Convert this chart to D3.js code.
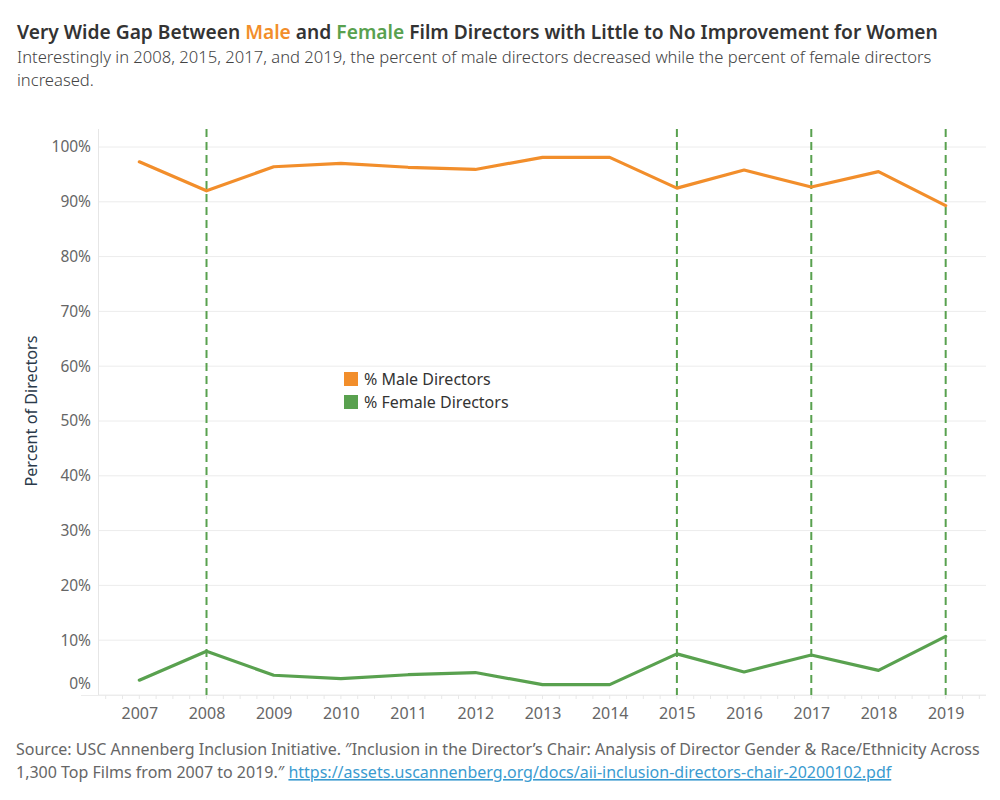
<!DOCTYPE html>
<html>
<head>
<meta charset="utf-8">
<script src="https://cdn.jsdelivr.net/npm/d3@7"></script>
<style>
  body { margin: 0; background: #fff; }
  svg { display: block; }
</style>
</head>
<body>
<div id="chart"></div>
<script>
// data
const years = [2007, 2008, 2009, 2010, 2011, 2012, 2013, 2014, 2015, 2016, 2017, 2018, 2019];
const maleValues = [97.3, 92.0, 96.4, 97.0, 96.3, 95.9, 98.1, 98.1, 92.5, 95.8, 92.7, 95.5, 89.3];
const femaleValues = [2.7, 8.0, 3.6, 3.0, 3.7, 4.1, 1.9, 1.9, 7.5, 4.2, 7.3, 4.5, 10.7];
const highlightYears = [2008, 2015, 2017, 2019];
const yTicks = [0, 10, 20, 30, 40, 50, 60, 70, 80, 90, 100];
const seriesNames = ["% Male Directors", "% Female Directors"];

const width = 1000, height = 800;
const margin = { top: 129, right: 14, bottom: 105, left: 99 };
const orange = "#f28e2b", green = "#59a14f";
const font = "'Noto Sans', sans-serif";

const svg = d3.select("#chart").append("svg")
    .attr("width", width)
    .attr("height", height)
    .style("font-family", font);

const x = d3.scalePoint()
    .domain(years)
    .range([margin.left, width - margin.right])
    .padding(0.6);

const y = d3.scaleLinear()
    .domain([0, 100])
    .range([height - margin.bottom, 147]);

// title + subtitle
const title = svg.append("text")
    .attr("x", 17)
    .attr("y", 39)
    .attr("font-size", 19.2)
    .attr("font-weight", 600)
    .attr("fill", "#333");
title.append("tspan").text("Very Wide Gap Between ");
title.append("tspan").attr("fill", orange).text("Male");
title.append("tspan").text(" and ");
title.append("tspan").attr("fill", green).text("Female");
title.append("tspan").text(" Film Directors with Little to No Improvement for Women");

const subtitle = ["Interestingly in 2008, 2015, 2017, and 2019, the percent of male directors decreased while the percent of female directors", "increased."];
svg.append("g").selectAll("text")
    .data(subtitle)
    .enter()
    .append("text")
    .attr("x", 17)
    .attr("y", (d, i) => 63 + i * 23)
    .attr("font-size", 16.6)
    .attr("font-weight", 300)
    .attr("fill", "#444")
    .text(d => d);

// gridlines
svg.append("g")
    .selectAll("line")
    .data(yTicks)
    .enter()
    .append("line")
    .attr("x1", margin.left)
    .attr("x2", width - margin.right)
    .attr("y1", d => y(d))
    .attr("y2", d => y(d))
    .attr("stroke", "#ececec")
    .attr("stroke-width", 1);

// left axis line
svg.append("line")
    .attr("x1", margin.left - 0.5)
    .attr("x2", margin.left - 0.5)
    .attr("y1", margin.top)
    .attr("y2", height - margin.bottom)
    .attr("stroke", "#e6e6e6");

// y axis labels
const yAxis = svg.append("g")
    .attr("transform", `translate(${margin.left},0)`)
    .call(d3.axisLeft(y).tickValues(yTicks).tickSize(0).tickPadding(8).tickFormat(d => d + "%"));
yAxis.select(".domain").remove();
yAxis.selectAll("text")
    .attr("font-family", font)
    .attr("font-size", 15.5)
    .attr("fill", "#666")
    .attr("dy", d => d === 0 ? "-0.45em" : "0.32em");

svg.append("text")
    .attr("transform", `translate(37, 411) rotate(-90)`)
    .attr("text-anchor", "middle")
    .attr("font-size", 16.2)
    .attr("fill", "#2b3a4a")
    .text("Percent of Directors");

// x axis with quarter minor ticks
const step = x.step();
const minorTicks = [];
years.forEach(yr => { for (let k = -2; k <= 2; k++) minorTicks.push(x(yr) + k * step / 4); });
svg.append("line")
    .attr("x1", margin.left - 18)
    .attr("x2", width - margin.right)
    .attr("y1", y(0) + 0.5)
    .attr("y2", y(0) + 0.5)
    .attr("stroke", "#ececec");
svg.append("g")
    .selectAll("line")
    .data(Array.from(new Set(minorTicks.map(v => Math.round(v * 10) / 10))))
    .enter()
    .append("line")
    .attr("x1", d => d)
    .attr("x2", d => d)
    .attr("y1", y(0))
    .attr("y2", y(0) + 4)
    .attr("stroke", "#e8e8e8");

const xAxis = svg.append("g")
    .attr("transform", `translate(0,${y(0)})`)
    .call(d3.axisBottom(x).tickSize(0).tickPadding(13));
xAxis.select(".domain").remove();
xAxis.selectAll("text")
    .attr("font-family", font)
    .attr("font-size", 16)
    .attr("fill", "#666");

// highlighted year dashed lines
svg.append("g")
    .selectAll("line")
    .data(highlightYears)
    .enter()
    .append("line")
    .attr("x1", d => x(d))
    .attr("x2", d => x(d))
    .attr("y1", margin.top)
    .attr("y2", y(0))
    .attr("stroke", green)
    .attr("stroke-width", 2)
    .attr("stroke-dasharray", "8,5");

// lines
const line = d3.line()
    .x(d => x(d.year))
    .y(d => y(d.value));

const series = [
    { name: seriesNames[0], color: orange, values: years.map((yr, i) => ({ year: yr, value: maleValues[i] })) },
    { name: seriesNames[1], color: green, values: years.map((yr, i) => ({ year: yr, value: femaleValues[i] })) }
];

svg.append("g")
    .selectAll("path")
    .data(series)
    .enter()
    .append("path")
    .attr("d", d => line(d.values))
    .attr("fill", "none")
    .attr("stroke", d => d.color)
    .attr("stroke-width", 3.2)
    .attr("stroke-linejoin", "round")
    .attr("stroke-linecap", "round");

// legend
const legendItem = svg.append("g")
    .attr("transform", "translate(344, 372)")
    .selectAll("g")
    .data(series)
    .enter()
    .append("g")
    .attr("transform", (d, i) => `translate(0, ${i * 23})`);

legendItem.append("rect")
    .attr("width", 14)
    .attr("height", 14)
    .attr("fill", d => d.color);

legendItem.append("text")
    .attr("x", 20)
    .attr("y", 13)
    .attr("font-size", 16)
    .attr("fill", "#333")
    .text(d => d.name);

// source
svg.append("text")
    .attr("x", 16)
    .attr("y", 755)
    .attr("font-size", 16)
    .attr("fill", "#666")
    .text("Source: USC Annenberg Inclusion Initiative. \u2033Inclusion in the Director\u2019s Chair: Analysis of Director Gender & Race/Ethnicity Across");

const src2 = svg.append("text")
    .attr("x", 16)
    .attr("y", 778)
    .attr("font-size", 16)
    .attr("fill", "#666");
src2.append("tspan").text("1,300 Top Films from 2007 to 2019.\u2033 ");
src2.append("tspan")
    .attr("fill", "#3a9bd0")
    .attr("text-decoration", "underline")
    .text("https://assets.uscannenberg.org/docs/aii-inclusion-directors-chair-20200102.pdf");
</script>
</body>
</html>
